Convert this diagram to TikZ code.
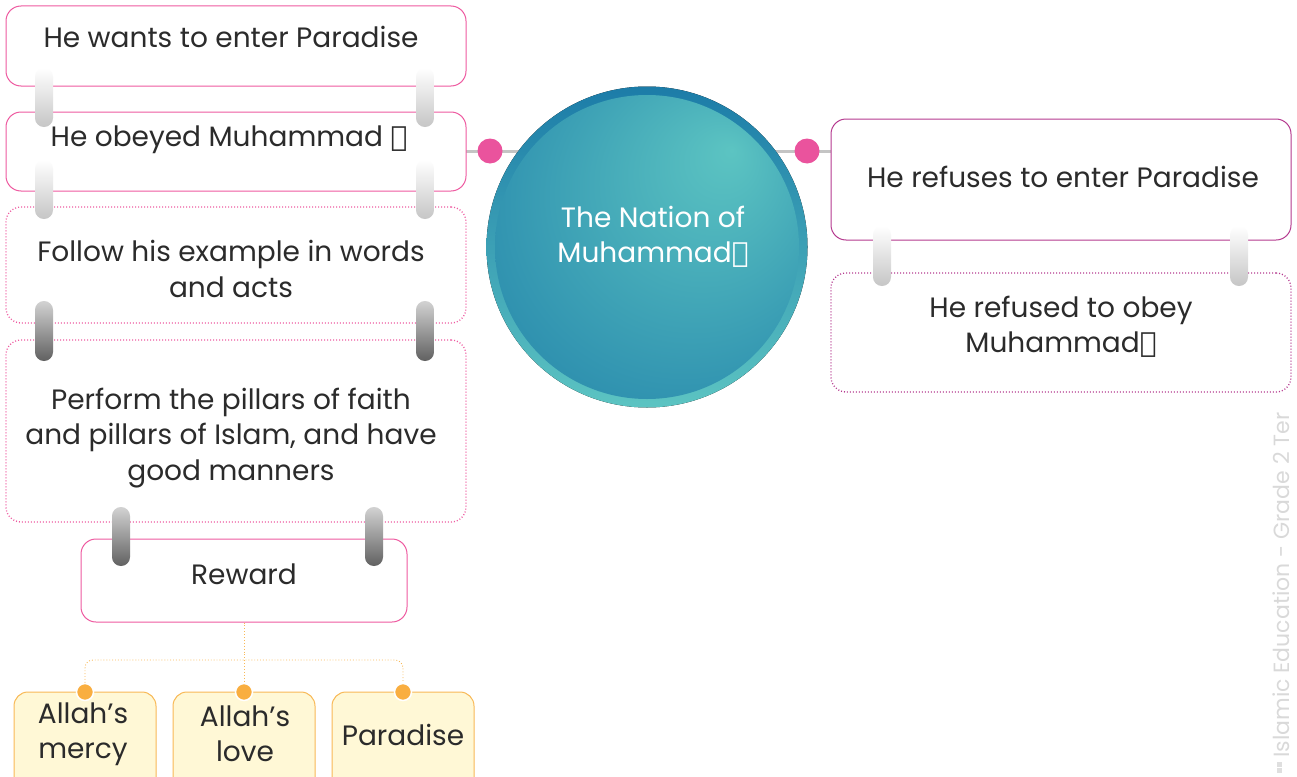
\documentclass[tikz,border=0pt]{standalone}
\usepackage{fontspec}
\setmainfont{Poppins}
\newfontfamily\arabfont[Script=Arabic]{DejaVu Sans}
\usetikzlibrary{calc}
\definecolor{pinkline}{HTML}{EE5AA0}
\definecolor{pinkdot}{HTML}{EA539D}
\definecolor{magline}{HTML}{B53A8F}
\definecolor{grayline}{HTML}{C4C4C4}
\definecolor{yelfill}{HTML}{FFF8D6}
\definecolor{orline}{HTML}{F8B957}
\definecolor{ordot}{HTML}{F9AE40}
\definecolor{txtcol}{HTML}{2B2B2B}
\definecolor{ringtop}{HTML}{1C7CA8}
\definecolor{ringbot}{HTML}{5CC4C2}
\pgfdeclareradialshading{discshade}{\pgfpoint{14bp}{16bp}}{color(0bp)=(ringbot); color(14bp)=(ringbot!70!ringtop); color(30bp)=(ringbot!35!ringtop); color(50bp)=(ringtop!95!black)}
\newcommand{\pbuh}{{\arabfont ﷺ}}
\tikzset{
  box/.style={rectangle, rounded corners=15pt, line width=1pt, fill=white, inner sep=0pt},
  pinkbox/.style={box, draw=pinkline},
  pinkdots/.style={box, draw=pinkline, dotted, line width=1.3pt},
  magbox/.style={box, draw=magline},
  magdots/.style={box, draw=magline, dotted, line width=1.3pt},
  yelbox/.style={rectangle, rounded corners=14pt, line width=1pt, draw=orline, fill=yelfill, minimum width=142pt, minimum height=100pt},
  txt/.style={text=txtcol, font=\fontsize{28}{35.5}\selectfont, align=center, inner sep=0pt},
  pdot/.style={circle, fill=pinkdot, minimum size=25pt, inner sep=0pt},
  odot/.style={circle, fill=ordot, draw=white, line width=1.5pt, minimum size=17pt, inner sep=0pt},
  lightbar/.style={top color=white, bottom color=gray!45, rounded corners=8.9pt},
  darkbar/.style={top color=gray!35, bottom color=black!62, rounded corners=8.9pt},
  olink/.style={draw=orline, dotted, line width=0.9pt}
}
\begin{document}
\begin{tikzpicture}[x=1pt,y=-1pt]
\useasboundingbox (0,0) rectangle (1297,776);
\clip (0,0) rectangle (1297,776);
% gray main line
\coordinate (gl) at (466,151);
\coordinate (gr) at (831,151);
\draw[grayline, line width=3pt] (gl) -- (gr);
% left boxes
\node[pinkbox, minimum width=460pt, minimum height=80pt] (b1) at (236,46) {};
\node[txt] (t1) at (231,37) {He wants to enter Paradise};
\node[pinkbox, minimum width=460pt, minimum height=79pt] (b2) at (236,151.5) {};
\node[txt] (t2) at (229,140) {He obeyed Muhammad \pbuh};
\node[pinkdots, minimum width=460pt, minimum height=116pt] (b3) at (236,265) {};
\node[txt] (t3) at (231,269) {Follow his example in words\\and acts};
\node[pinkdots, minimum width=460pt, minimum height=182pt] (b4) at (236,431) {};
\node[txt] (t4) at (231,438) {Perform the pillars of faith\\and pillars of Islam, and have\\good manners};
\node[pinkbox, minimum width=326pt, minimum height=83pt] (b5) at (244,580.5) {};
\node[txt] (t5) at (244,574) {Reward};
% right boxes
\node[magbox, minimum width=460pt, minimum height=121pt] (r1) at (1061,179.5) {};
\node[txt] (rt1) at (1063,177) {He refuses to enter Paradise};
\node[magdots, minimum width=460pt, minimum height=119pt] (r2) at (1061,332.5) {};
\node[txt] (rt2) at (1061,327) {He refused to obey\\Muhammad\pbuh};
% circle
\fill[top color=ringtop, bottom color=ringbot] (647,247) circle (160.5pt);
\path[shading=discshade] (647,247) circle (152pt);
\node[txt, text=white] (ct) at (653,237) {The Nation of\\Muhammad\pbuh};
\node[circle, minimum size=321pt, inner sep=0pt] (circ) at (647,247) {};
% pink dots
\node[pdot] (pd1) at (490,151) {};
\node[pdot] (pd2) at (807,151) {};
% bars
\foreach \x in {44,425}{
  \shade[lightbar] (\x-9,68) rectangle (\x+9,127);
  \shade[lightbar] (\x-9,160) rectangle (\x+9,219);
  \shade[darkbar] (\x-9,301) rectangle (\x+9,361);
}
\foreach \x in {121,374}{
  \shade[darkbar] (\x-9,507) rectangle (\x+9,566);
}
\foreach \x in {882,1239}{
  \shade[lightbar] (\x-9,226) rectangle (\x+9,286);
}
% reward sub boxes
\node[yelbox] (y1) at (85,742) {};
\node[txt] (yt1) at (83,734) {Allah's\\mercy};
\node[yelbox] (y2) at (244,742) {};
\node[txt] (yt2) at (245,734) {Allah's\\love};
\node[yelbox] (y3) at (403,742) {};
\node[txt] (yt3) at (403,735) {Paradise};
\node[odot] (o1) at (85,692) {};
\node[odot] (o2) at (244,692) {};
\node[odot] (o3) at (403,692) {};
\coordinate (jn) at (244,660);
\draw[olink] (b5.south) -- (o2.north);
\draw[olink, rounded corners=8pt] (o1.north) -- (85,660) -- (403,660) -- (o3.north);
% side label
\node[rotate=90, anchor=west, text=gray!30, font=\fontsize{22}{22}\selectfont, inner sep=0pt] (side) at (1281,758) {Islamic Education - Grade 2 Ter};
\fill[gray!25] (1276.5,762) rectangle (1281.5,766.5);
\fill[gray!25] (1276.5,768) rectangle (1281.5,772.5);
\end{tikzpicture}
\end{document}
